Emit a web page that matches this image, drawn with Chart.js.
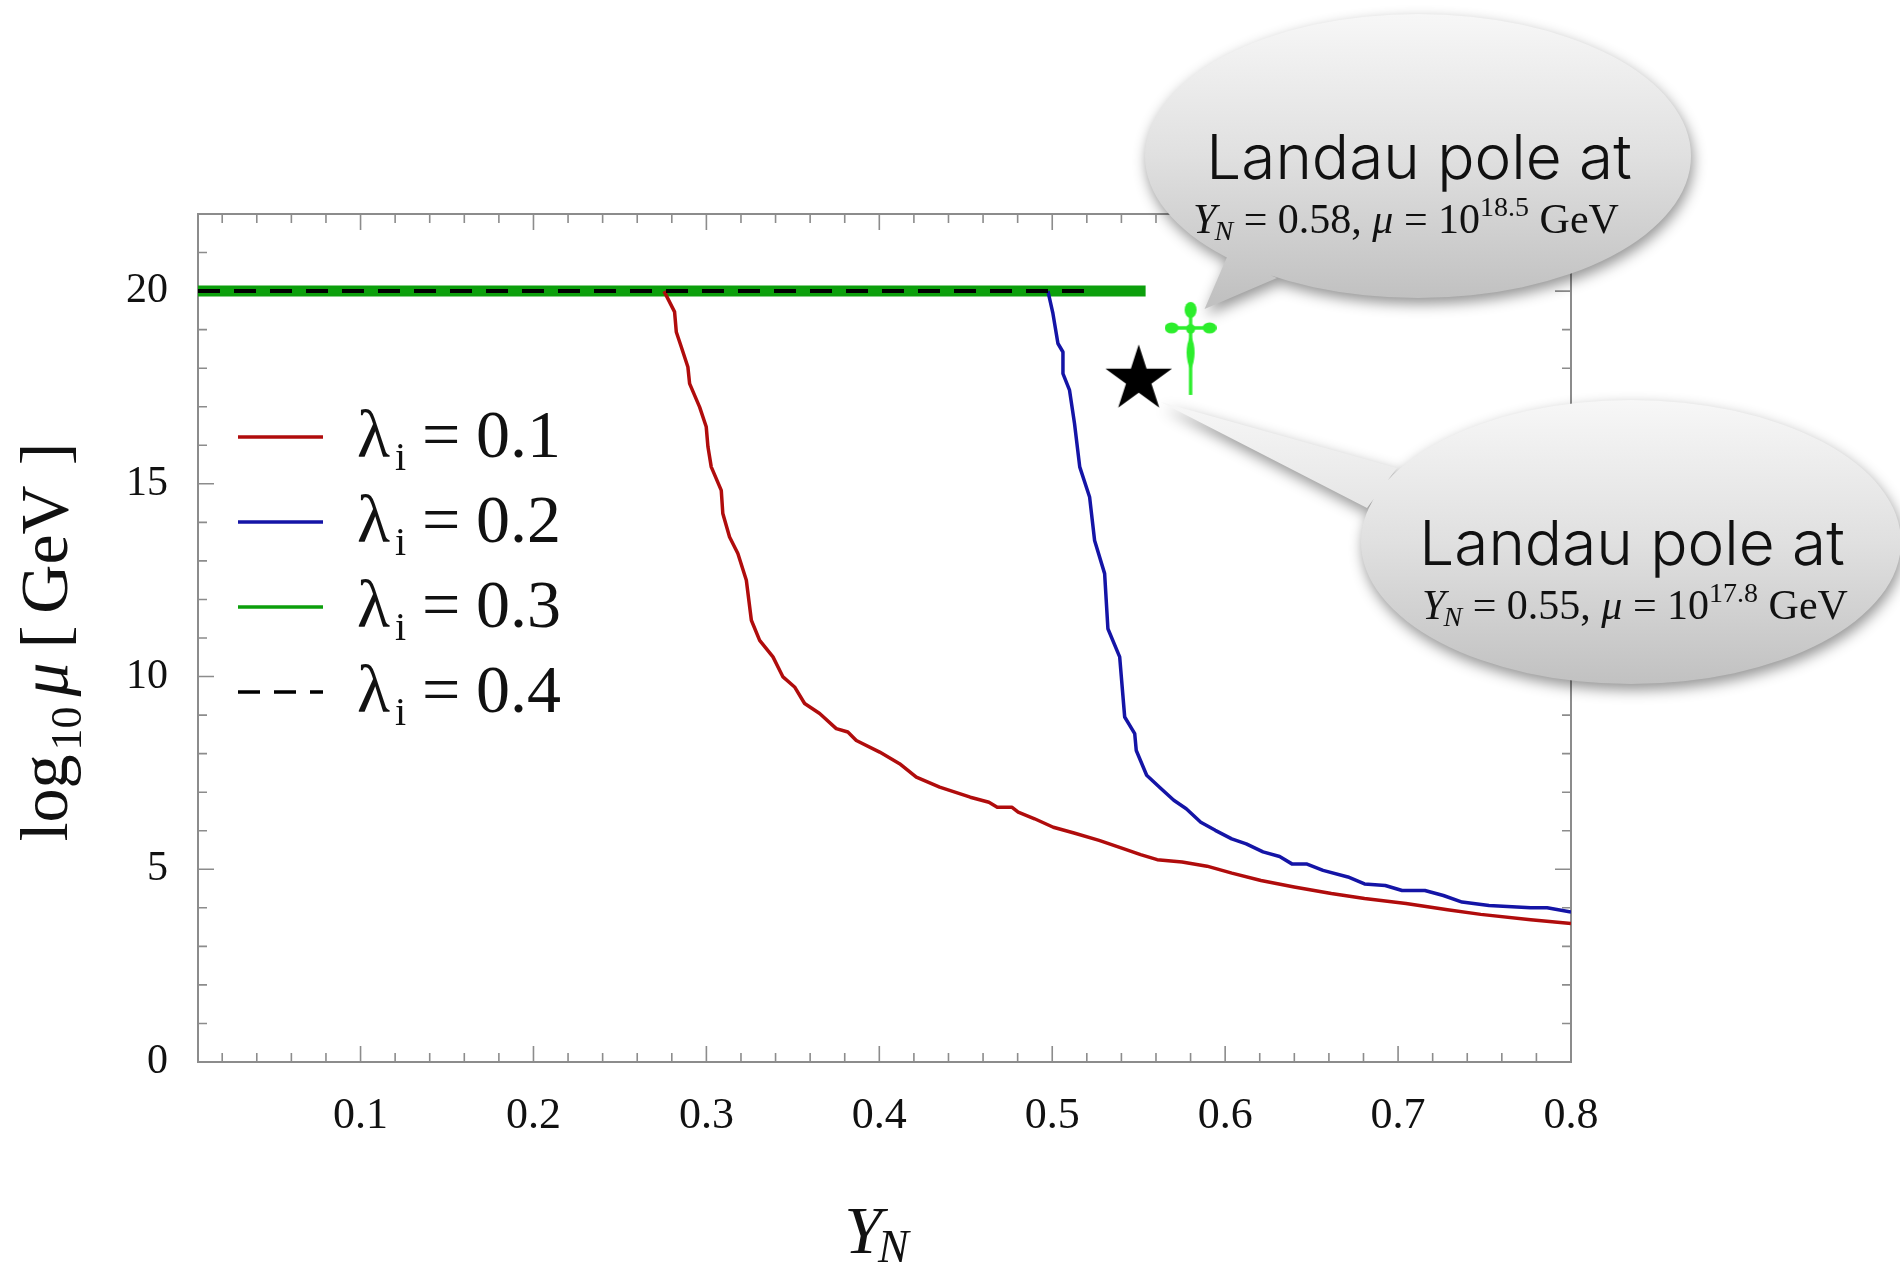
<!DOCTYPE html>
<html>
<head>
<meta charset="utf-8">
<title>Landau pole scan</title>
<script src="https://cdn.jsdelivr.net/npm/chart.js@4.4.1/dist/chart.umd.min.js"></script>
<style>
  html, body { margin: 0; padding: 0; background: #fff; }
  #wrap { width: 1900px; height: 1264px; }
</style>
</head>
<body>
<div id="wrap"><canvas id="pole-chart" width="1900" height="1264"></canvas></div>
<script>
// lambda_i = 0.1
const lam01Yn = [0.2755, 0.2816, 0.2826, 0.2855, 0.2893, 0.2903, 0.2961, 0.2999, 0.3009, 0.3028, 0.3086, 0.3095, 0.3134, 0.3182, 0.3231, 0.326, 0.3308, 0.3385, 0.3443, 0.351, 0.3568, 0.3655, 0.3751, 0.3818, 0.3867, 0.4002, 0.4117, 0.4214, 0.4349, 0.4526, 0.4634, 0.4682, 0.4766, 0.4803, 0.4898, 0.5006, 0.5126, 0.5271, 0.5415, 0.5511, 0.5607, 0.5751, 0.5895, 0.6039, 0.6207, 0.6399, 0.6614, 0.6806, 0.7046, 0.7286, 0.7478, 0.7767, 0.8];
const lam01LogMu = [20, 19.46, 18.94, 18.55, 18.03, 17.6, 16.99, 16.48, 15.96, 15.44, 14.83, 14.23, 13.62, 13.19, 12.5, 11.46, 10.94, 10.51, 9.99, 9.73, 9.3, 9.04, 8.65, 8.56, 8.34, 8.04, 7.74, 7.39, 7.13, 6.87, 6.74, 6.61, 6.61, 6.48, 6.31, 6.09, 5.94, 5.75, 5.53, 5.38, 5.25, 5.19, 5.08, 4.9, 4.71, 4.54, 4.37, 4.24, 4.11, 3.95, 3.83, 3.69, 3.59];

// lambda_i = 0.2
const lam02Yn = [0.4975, 0.5004, 0.5033, 0.5062, 0.5062, 0.51, 0.5129, 0.5159, 0.5216, 0.5245, 0.5303, 0.5322, 0.539, 0.5419, 0.5477, 0.5486, 0.5546, 0.563, 0.5703, 0.5775, 0.5859, 0.5943, 0.6038, 0.6122, 0.6219, 0.6315, 0.6386, 0.647, 0.6566, 0.671, 0.6806, 0.6926, 0.7023, 0.7155, 0.7262, 0.737, 0.7526, 0.7767, 0.7862, 0.8];
const lam02LogMu = [20, 19.42, 18.64, 18.42, 17.86, 17.43, 16.56, 15.44, 14.66, 13.53, 12.67, 11.24, 10.51, 8.95, 8.52, 8.08, 7.44, 7.09, 6.79, 6.57, 6.22, 6.01, 5.79, 5.66, 5.45, 5.33, 5.14, 5.14, 4.97, 4.8, 4.62, 4.58, 4.45, 4.45, 4.32, 4.15, 4.06, 4.0, 4.0, 3.89];

// lambda_i = 0.3 and 0.4 stay at the cut-off
const lam03Yn = [0.006, 0.554];
const lam03LogMu = [20, 20];
const lam04Yn = [0.006, 0.52];
const lam04LogMu = [20, 20];

const lambdaValues = ["0.1", "0.2", "0.3", "0.4"];

// Landau poles (star: lambda_i = 0.2, dagger: lambda_i = 0.3)
const starYn = [0.55];
const starLogMu = [17.8];
const daggerYn = [0.58];
const daggerLogMu = [18.5];

const xTickValues = [0.1, 0.2, 0.3, 0.4, 0.5, 0.6, 0.7, 0.8];
const xTickLabels = ["0.1", "0.2", "0.3", "0.4", "0.5", "0.6", "0.7", "0.8"];
const yTickValues = [0, 5, 10, 15, 20];
const yTickLabels = ["0", "5", "10", "15", "20"];

const SERIF = "'Liberation Serif', 'Times New Roman', serif";
const LIGHT_SANS = "300 62px Inter, Roboto, 'Liberation Sans', sans-serif";

const toPoints = (xs, ys) => xs.map((x, i) => ({ x: x, y: ys[i] }));

function makeStar(r) {
  const c = document.createElement("canvas");
  c.width = c.height = Math.ceil(r * 2 + 4);
  const g = c.getContext("2d");
  const cx = c.width / 2;
  const cy = c.height / 2 + r * 0.1;
  g.beginPath();
  for (let i = 0; i < 10; i++) {
    const rr = i % 2 ? r * 0.382 : r;
    const a = -Math.PI / 2 + (i * Math.PI) / 5;
    g.lineTo(cx + rr * Math.cos(a), cy + rr * Math.sin(a));
  }
  g.closePath();
  g.fillStyle = "#000";
  g.fill();
  return c;
}

function makeDagger() {
  const c = document.createElement("canvas");
  c.width = 52;
  c.height = 96;
  const g = c.getContext("2d");
  const cx = 26;
  g.fillStyle = g.strokeStyle = "#2cee2c";
  g.lineWidth = 3.4;
  g.beginPath();
  g.moveTo(cx, 9);
  g.lineTo(cx, 94);
  g.moveTo(8, 27);
  g.lineTo(44, 27);
  g.stroke();
  const blob = (x, y, rx, ry) => {
    g.beginPath();
    g.ellipse(x, y, rx, ry, 0, 0, Math.PI * 2);
    g.fill();
  };
  blob(cx, 9, 6, 8);
  blob(7, 27, 7, 5.5);
  blob(45, 27, 7, 5.5);
  blob(cx, 28, 4.5, 5);
  // spindle below the crossbar
  g.beginPath();
  g.moveTo(cx, 34);
  g.quadraticCurveTo(cx + 8, 51, cx, 70);
  g.quadraticCurveTo(cx - 8, 51, cx, 34);
  g.fill();
  return c;
}

// draws a row of text pieces centred on cx
function drawRuns(ctx, runs, cx, baseY) {
  let total = 0;
  runs.forEach((r) => {
    ctx.font = r.font;
    r.w = ctx.measureText(r.t).width;
    total += r.w + (r.gap || 0);
  });
  let x = cx - total / 2;
  ctx.textAlign = "left";
  ctx.textBaseline = "alphabetic";
  runs.forEach((r) => {
    x += r.gap || 0;
    ctx.font = r.font;
    ctx.fillText(r.t, x, baseY + (r.dy || 0));
    x += r.w;
  });
}

// frame with inward ticks on all four sides
const frameTicks = {
  id: "frameTicks",
  beforeDatasetsDraw(chart) {
    const { ctx, chartArea: a, scales: { x, y } } = chart;
    ctx.save();
    ctx.strokeStyle = "#8c8c8c";
    ctx.lineWidth = 2;
    ctx.strokeRect(a.left, a.top, a.right - a.left, a.bottom - a.top);
    ctx.lineWidth = 1.6;
    ctx.beginPath();
    for (let k = 1; k < 40; k++) {
      const v = k / 50;
      if (v <= x.min) continue;
      const px = x.getPixelForValue(v);
      const len = k % 5 === 0 ? 16 : 9;
      ctx.moveTo(px, a.bottom);
      ctx.lineTo(px, a.bottom - len);
      ctx.moveTo(px, a.top);
      ctx.lineTo(px, a.top + len);
    }
    for (let k = 1; k < 22; k++) {
      const py = y.getPixelForValue(k);
      const len = k % 5 === 0 ? 16 : 9;
      ctx.moveTo(a.left, py);
      ctx.lineTo(a.left + len, py);
      ctx.moveTo(a.right, py);
      ctx.lineTo(a.right - len, py);
    }
    ctx.stroke();
    ctx.restore();
  },
};

// legend inside the plot, lambda_i = value
const insideLegend = {
  id: "insideLegend",
  afterDatasetsDraw(chart) {
    const { ctx, chartArea: a } = chart;
    ctx.save();
    lambdaValues.forEach((val, i) => {
      const ds = chart.data.datasets[i];
      const base = a.top + 243 + i * 85;
      const ly = base - 20;
      ctx.strokeStyle = ds.borderColor;
      ctx.lineWidth = 3.5;
      ctx.setLineDash(ds.borderDash || []);
      ctx.beginPath();
      ctx.moveTo(a.left + 40, ly);
      ctx.lineTo(a.left + 125, ly);
      ctx.stroke();
      ctx.setLineDash([]);
      ctx.fillStyle = "#111";
      ctx.textAlign = "left";
      ctx.textBaseline = "alphabetic";
      ctx.font = "68px " + SERIF;
      ctx.fillText("\u03bb", a.left + 159, base);
      ctx.font = "40px " + SERIF;
      ctx.fillText("i", a.left + 197, base + 13);
      ctx.font = "68px " + SERIF;
      ctx.fillText("=", a.left + 224, base);
      ctx.fillText(val, a.left + 278, base);
    });
    ctx.restore();
  },
};

const axisTitles = {
  id: "axisTitles",
  afterDraw(chart) {
    const { ctx, chartArea: a } = chart;
    ctx.save();
    ctx.fillStyle = "#111";
    const mid = (a.left + a.right) / 2;
    drawRuns(ctx, [
      { t: "Y", font: "italic 68px " + SERIF },
      { t: "N", font: "italic 46px " + SERIF, dy: 9, gap: -4 },
    ], mid - 8, 1253);
    ctx.translate(67, (a.top + a.bottom) / 2 + 4);
    ctx.rotate(-Math.PI / 2);
    drawRuns(ctx, [
      { t: "log", font: "68px " + SERIF },
      { t: "10", font: "44px " + SERIF, dy: 14, gap: 4 },
      { t: "\u03bc", font: "italic 68px " + SERIF, gap: 10 },
      { t: "[", font: "68px " + SERIF, gap: 14 },
      { t: "GeV", font: "68px " + SERIF, gap: 12 },
      { t: "]", font: "68px " + SERIF, gap: 20 },
    ], 0, 0);
    ctx.restore();
  },
};

function drawBubble(ctx, b, tip) {
  ctx.save();
  const grad = ctx.createLinearGradient(0, b.cy - b.ry, 0, b.cy + b.ry);
  grad.addColorStop(0, "#f7f7f7");
  grad.addColorStop(0.5, "#e0e0e0");
  grad.addColorStop(1, "#c1c1c1");
  let p = b.base[0];
  let q = b.base[1];
  // keep the tail clockwise so it joins the ellipse under nonzero fill
  const area = (p[0] - tip.x) * (q[1] - tip.y) - (q[0] - tip.x) * (p[1] - tip.y);
  if (area < 0) [p, q] = [q, p];
  ctx.beginPath();
  ctx.ellipse(b.cx, b.cy, b.rx, b.ry, 0, 0, Math.PI * 2);
  ctx.moveTo(tip.x, tip.y);
  ctx.lineTo(p[0], p[1]);
  ctx.lineTo(q[0], q[1]);
  ctx.closePath();
  ctx.shadowColor = "rgba(0,0,0,0.42)";
  ctx.shadowBlur = 14;
  ctx.shadowOffsetX = 2;
  ctx.shadowOffsetY = 6;
  ctx.fillStyle = grad;
  ctx.fill();
  ctx.restore();

  ctx.save();
  ctx.fillStyle = "#111";
  ctx.textAlign = "center";
  ctx.textBaseline = "alphabetic";
  ctx.font = LIGHT_SANS;
  ctx.fillText("Landau pole at", b.cx + 1, b.cy + 23);
  drawRuns(ctx, [
    { t: "Y", font: "italic 42px " + SERIF },
    { t: "N", font: "italic 28px " + SERIF, dy: 7, gap: -2 },
    { t: " = " + b.yn + ", ", font: "42px " + SERIF },
    { t: "\u03bc", font: "italic 42px " + SERIF },
    { t: " = 10", font: "42px " + SERIF },
    { t: b.mu, font: "28px " + SERIF, dy: -17 },
    { t: " GeV", font: "42px " + SERIF },
  ], b.cx + b.lineShift, b.cy + 77);
  ctx.restore();
}

const poleBubbles = {
  id: "poleBubbles",
  afterDraw(chart) {
    const { ctx, scales: { x, y } } = chart;
    const dx = x.getPixelForValue(daggerYn[0]);
    const dy = y.getPixelForValue(daggerLogMu[0]);
    drawBubble(ctx, {
      cx: 1418, cy: 156, rx: 273, ry: 142,
      base: [[1227, 257], [1277, 278]],
      yn: daggerYn[0].toFixed(2), mu: daggerLogMu[0].toFixed(1), lineShift: -12,
    }, { x: dx + 14, y: dy - 40 });
    const sx = x.getPixelForValue(starYn[0]);
    const sy = y.getPixelForValue(starLogMu[0]);
    drawBubble(ctx, {
      cx: 1631, cy: 542, rx: 270, ry: 142,
      base: [[1397, 468], [1367, 508]],
      yn: starYn[0].toFixed(2), mu: starLogMu[0].toFixed(1), lineShift: 4,
    }, { x: sx + 22, y: sy + 26 });
  },
};

const lineStyle = { showLine: true, pointRadius: 0, tension: 0, borderJoinStyle: "round", fill: false };

const ctxPole = document.getElementById("pole-chart");

new Chart(ctxPole, {
  type: "scatter",
  data: {
    datasets: [
      { ...lineStyle, label: "\u03bb_i = 0.1", data: toPoints(lam01Yn, lam01LogMu), borderColor: "#b00c0c", borderWidth: 3.5, order: 3 },
      { ...lineStyle, label: "\u03bb_i = 0.2", data: toPoints(lam02Yn, lam02LogMu), borderColor: "#1414a6", borderWidth: 3.5, order: 2 },
      { ...lineStyle, label: "\u03bb_i = 0.3", data: toPoints(lam03Yn, lam03LogMu), borderColor: "#0c9f0c", borderWidth: 11, borderCapStyle: "butt", order: 4 },
      { ...lineStyle, label: "\u03bb_i = 0.4", data: toPoints(lam04Yn, lam04LogMu), borderColor: "#000", borderWidth: 4, borderDash: [22, 14], order: 1 },
      { label: "pole \u03bb_i = 0.2", data: toPoints(starYn, starLogMu), pointStyle: makeStar(35), pointRadius: 10, order: 0 },
      { label: "pole \u03bb_i = 0.3", data: toPoints(daggerYn, daggerLogMu), pointStyle: makeDagger(), pointRadius: 10, order: 0 },
    ],
  },
  options: {
    responsive: false,
    animation: false,
    events: [],
    layout: { padding: { top: 214, right: 329, left: 0, bottom: 0 } },
    plugins: {
      legend: { display: false },
      tooltip: { enabled: false },
    },
    scales: {
      x: {
        type: "linear",
        min: 0.006,
        max: 0.8,
        grid: { display: false, drawTicks: false },
        border: { display: false },
        afterBuildTicks: (scale) => {
          scale.ticks = xTickValues.map((v) => ({ value: v }));
        },
        afterFit: (scale) => {
          scale.height = 202;
        },
        ticks: {
          padding: 28,
          autoSkip: false,
          maxRotation: 0,
          color: "#111",
          font: { family: SERIF, size: 44 },
          callback: (value, index) => xTickLabels[index],
        },
      },
      y: {
        type: "linear",
        min: 0,
        max: 22,
        grid: { display: false, drawTicks: false },
        border: { display: false },
        afterBuildTicks: (scale) => {
          scale.ticks = yTickValues.map((v) => ({ value: v }));
        },
        afterFit: (scale) => {
          scale.width = 198;
        },
        ticks: {
          padding: 30,
          autoSkip: false,
          color: "#111",
          font: { family: SERIF, size: 42 },
          callback: (value, index) => yTickLabels[index],
        },
      },
    },
  },
  plugins: [frameTicks, insideLegend, axisTitles, poleBubbles],
});
</script>
</body>
</html>
